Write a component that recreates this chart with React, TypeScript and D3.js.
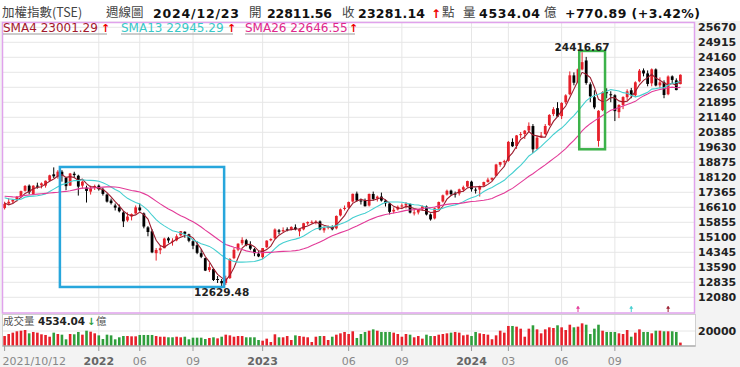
import React from 'react';
import * as d3 from 'd3';

// weekly closes before the first visible bar (warm-up for the moving averages)
const priorClose = [17265, 17566, 17285, 16583, 16302, 16870, 17147, 17213, 17371, 17403, 17711, 17661, 17895, 17572, 17247, 17526, 16982, 16341, 16880, 17516, 17474, 17276, 17260, 16705, 16570];

// TAIEX weekly bars, 2021/10/12 .. 2024/12/23
const weekOpen = [
  16570, 16800, 16900, 17000, 17150, 17440, 17700, 17280, 17700, 17720,
  17700, 17960, 18270, 18150, 18400, 18100, 17700, 18300, 18200, 17700,
  17600, 17400, 17600, 17700, 17500, 17250, 16950, 16700, 16600, 16350,
  15950, 16150, 16300, 16600, 16300, 15600, 15400, 14300, 14450, 14550,
  15050, 14900, 14950, 15200, 15380, 15250, 14900, 14700, 14300, 14050,
  13450, 13500, 13000, 12900, 12800, 13050, 14050, 14480, 14800, 14950,
  14700, 14500, 14280, 14100, 14600, 14950, 15050, 15450, 15400, 15500,
  15500, 15600, 15400, 15500, 15800, 15870, 15850, 15900, 15450, 15600,
  15600, 15550, 16200, 16550, 16600, 16900, 17300, 16950, 16950, 16700,
  17280, 17050, 17150, 16950, 16800, 16400, 16500, 16650, 16700, 16780,
  16350, 16350, 16500, 16650, 16250, 16050, 16550, 16900, 17250, 17450,
  17300, 17300, 17500, 17650, 17900, 17500, 17500, 17700, 17880, 18000,
  18200, 18750, 18880, 18950, 19900, 19700, 20250, 20300, 20470, 20700,
  19550, 20150, 20300, 20750, 21300, 21600, 21200, 21900, 22300, 23250,
  22900, 23550, 24000, 22800, 22150, 19950, 21500, 22400, 22300, 22250,
  21400, 21760, 22150, 22500, 22250, 22950, 23500, 23350, 22850, 23550,
  22750, 22900, 22300, 23200, 23000, 22811.56,
];
const weekHigh = [
  16890, 17080, 17020, 17180, 17450, 17730, 17760, 17720, 17850, 17860,
  17960, 18250, 18619, 18480, 18480, 18130, 18340, 18400, 18250, 17960,
  17700, 17700, 17750, 17760, 17600, 17300, 17050, 16800, 16750, 16420,
  16350, 16300, 16700, 16800, 16350, 15660, 15500, 14560, 14700, 15080,
  15120, 15050, 15250, 15417, 15400, 15280, 14950, 14900, 14500, 14080,
  13800, 13540, 13150, 13000, 13170, 14050, 14570, 14800, 15100, 15020,
  14900, 14560, 14400, 14560, 14950, 15050, 15550, 15520, 15600, 15600,
  15650, 15750, 15550, 15830, 15900, 15950, 15960, 15950, 15650, 15700,
  15700, 16200, 16550, 16700, 16900, 17300, 17400, 17050, 17050, 17300,
  17400, 17200, 17350, 17000, 16850, 16600, 16700, 16800, 16870, 16800,
  16500, 16500, 16700, 16700, 16300, 16600, 16900, 17250, 17500, 17500,
  17400, 17550, 17700, 17950, 17950, 17600, 17700, 17900, 18100, 18100,
  18800, 18900, 19000, 19950, 20080, 20250, 20400, 20500, 20883, 20800,
  20200, 20400, 20800, 21300, 21650, 21900, 21900, 22300, 23450, 23400,
  23600, 24416.67, 24180, 22900, 22500, 21500, 22450, 22600, 22450, 22300,
  21800, 22200, 22550, 22620, 22950, 23570, 23600, 23500, 23600, 23600,
  23150, 23000, 23250, 23250, 23100, 23300,
];
const weekLow = [
  16500, 16760, 16800, 16900, 17120, 17400, 17260, 17220, 17550, 17560,
  17600, 17930, 18080, 18050, 17900, 17470, 17690, 18080, 17200, 17550,
  16850, 17250, 17480, 17450, 17200, 16850, 16750, 16450, 16350, 15616,
  15880, 15950, 16280, 16400, 15550, 15150, 14300, 13928, 14250, 14550,
  14820, 14680, 14900, 15150, 15080, 14850, 14500, 14250, 14050, 13400,
  13350, 12900, 12800, 12629.48, 12700, 13000, 14000, 14400, 14700, 14650,
  14450, 14150, 14100, 14000, 14550, 14900, 15020, 15250, 15350, 15400,
  15450, 15450, 15150, 15450, 15700, 15800, 15750, 15450, 15330, 15500,
  15450, 15500, 16150, 16450, 16550, 16850, 16900, 16750, 16650, 16650,
  16950, 16900, 16900, 16650, 16250, 16300, 16450, 16550, 16550, 16300,
  16200, 16250, 16450, 16200, 15940, 16000, 16500, 16850, 17200, 17200,
  17100, 17200, 17400, 17600, 17400, 17300, 17150, 17650, 17850, 17950,
  18180, 18650, 18700, 18900, 19650, 19550, 20100, 20050, 20400, 19350,
  19500, 20100, 20250, 20700, 21200, 21150, 21050, 21800, 22250, 22750,
  22850, 23500, 22780, 21900, 21550, 19662, 21450, 22100, 21900, 20950,
  21100, 21550, 22000, 22100, 22150, 22900, 23200, 22700, 22700, 22700,
  22600, 22100, 22250, 22850, 22500, 22800,
];
const weekClose = [
  16781, 16888, 16987, 17137, 17424, 17683, 17370, 17697, 17699, 17813,
  17946, 18219, 18169, 18403, 18218, 17674, 18311, 18232, 17652, 17899,
  17434, 17566, 17677, 17523, 17284, 16898, 16821, 16592, 16408, 15900,
  16144, 16266, 16606, 16460, 15641, 15366, 14343, 14464, 14551, 15036,
  14942, 14923, 15150, 15408, 15278, 14926, 14675, 14318, 14119, 13424,
  13602, 12950, 12951, 12788, 13026, 14007, 14470, 14778, 14970, 14705,
  14528, 14300, 14137, 14557, 14933, 15012, 15493, 15378, 15464, 15483,
  15623, 15503, 15514, 15809, 15868, 15876, 15891, 15500, 15579, 15621,
  15502, 16174, 16505, 16577, 16875, 17288, 16947, 16915, 16664, 17283,
  17030, 17146, 16949, 16812, 16381, 16484, 16634, 16704, 16795, 16343,
  16353, 16490, 16658, 16248, 16001, 16558, 16876, 17213, 17442, 17270,
  17278, 17513, 17623, 17931, 17519, 17485, 17682, 17882, 18003, 18096,
  18763, 18889, 18935, 19902, 19682, 20227, 20294, 20466, 20706, 19527,
  20117, 20222, 20702, 21258, 21550, 21174, 21858, 22244, 23253, 22879,
  23558, 23916, 22870, 22199, 21638, 21469, 22402, 22385, 22268, 21450,
  21759, 22160, 22448, 22270, 22901, 23487, 23348, 22820, 23555, 22741,
  22898, 22263, 23193, 23021, 22510.25, 23281.14,
];
// weekly turnover, 億
const weekVolume = [
  13300, 16000, 17800, 19600, 20400, 21300, 16900, 18700, 17800, 15600,
  14700, 12400, 17800, 16000, 15100, 8900, 16000, 15600, 18700, 15100,
  20400, 19100, 16900, 14200, 9300, 15100, 14200, 8900, 11600, 13300,
  13300, 12900, 12900, 14700, 14700, 14700, 14700, 13300, 12400, 12400,
  11600, 11600, 12400, 11600, 12400, 8900, 11100, 11100, 11100, 9300,
  10700, 11600, 10200, 12400, 15100, 14200, 12400, 13300, 13300, 11600,
  11600, 11600, 8000, 7100, 9800, 5300, 15600, 11600, 11600, 13300,
  8000, 14200, 13300, 12400, 11600, 5300, 12400, 13300, 13300, 8000,
  12400, 15100, 16900, 18700, 16000, 19600, 10700, 16000, 18700, 20400,
  22200, 20400, 18700, 18700, 18700, 17800, 16000, 12400, 16000, 15100,
  11600, 13300, 9800, 15100, 13300, 13300, 15100, 16000, 16900, 17800,
  18700, 17800, 14200, 15100, 13300, 18700, 16900, 16000, 15100, 9000,
  14200, 20400, 17800, 26700, 26700, 25800, 23100, 12400, 23100, 27600,
  22200, 16900, 22200, 24900, 24000, 27600, 24900, 21300, 28400, 24900,
  25800, 30200, 28400, 16000, 23100, 28400, 20400, 18700, 18700, 18700,
  16900, 16000, 21300, 12400, 17800, 22200, 18700, 18700, 16900, 20400,
  20400, 19600, 19600, 19600, 18700, 4534.04,
];

const priceTicks = [25670, 24915, 24160, 23405, 22650, 21895, 21140, 20385, 19630, 18875, 18120, 17365, 16610, 15855, 15100, 14345, 13590, 12835, 12080];
const volumeTicks = [20000];
const timeTickIndex = [0, 23, 33, 46, 63, 84, 97, 114, 123, 136, 149];
const timeTickLabel = ['2021/10/12', '2022', '06', '09', '2023', '06', '09', '2024', '03', '06', '09'];

const maPeriods = [4, 13, 26];
const maLegendValue = ['23001.29', '22945.29', '22646.55'];

// marked areas: [from bar, to bar, low value, high value]
const blueBox = [13.5, 53.6, 12600, 18640];
const greenBox = [140.3, 146.6, 19530, 24480];
const highMark = { index: 141, value: 24416.67, label: '24416.67' };
const lowMark = { index: 53, value: 12629.48, label: '12629.48' };

const RED = '#e6202a';
const GREEN = '#2f9e3c';
const maLine = ['#9b1c2e', '#45cfd0', '#e23b98'];
const maText = ['#a3182c', '#38c8c8', '#e0268c'];
const CJK = '"Noto Sans CJK TC", "Noto Sans CJK SC", sans-serif';
const NUM = '"DejaVu Sans", Verdana, sans-serif';

export default function App() {
  const n = weekClose.length;
  const x = d3.scaleLinear().domain([0, n - 1]).range([4.6, 680.4]);
  const y = d3.scaleLinear().domain([12080, 25670]).range([297.3, 27.3]);
  const yv = d3.scaleLinear().domain([0, 20000]).range([346, 331]);

  const allClose = priorClose.concat(weekClose);
  const off = priorClose.length;
  const maSeries = maPeriods.map(p =>
    weekClose.map((_, i) => d3.mean(allClose.slice(off + i - p + 1, off + i + 1)) as number),
  );
  const line = d3.line<number>().x((_, i) => x(i)).y(d => y(d));

  const frame = { l: 2.5, r: 694.5, t: 22.5, b: 313 };
  const vol = { t: 314.5, b: 346 };

  const legendX = [3, 121, 245];
  const legendW = [104, 112, 110];

  return (
    <>
      <style>{'body{margin:0;background:#fff}'}</style>
      <svg width={740} height={367} style={{ display: 'block' }}>
        <rect x={0} y={0} width={740} height={367} fill="#fff" />
        <rect x={0} y={21} width={740} height={346} fill="#f3f3f3" />
        <rect x={frame.l} y={frame.t} width={frame.r - frame.l} height={frame.b - frame.t} fill="#fff" />
        <rect x={frame.l} y={vol.t} width={frame.r - frame.l + 1} height={vol.b - vol.t} fill="#fff" />

        {/* grid */}
        {priceTicks.map(v => (
          <line key={v} x1={frame.l} x2={frame.r} y1={y(v)} y2={y(v)} stroke="#e6e6e6" strokeWidth={1} />
        ))}
        {timeTickIndex.slice(1).map(i => (
          <g key={i}>
            <line x1={x(i)} x2={x(i)} y1={frame.t} y2={frame.b} stroke="#e6e6e6" />
            <line x1={x(i)} x2={x(i)} y1={vol.t} y2={vol.b} stroke="#e6e6e6" />
          </g>
        ))}
        {volumeTicks.map(v => (
          <line key={v} x1={frame.l} x2={frame.r + 1} y1={yv(v)} y2={yv(v)} stroke="#e6e6e6" />
        ))}

        {/* candles */}
        {weekClose.map((c, i) => {
          const o = weekOpen[i];
          const col = c >= o ? RED : '#000';
          const top = y(Math.max(o, c));
          const bot = y(Math.min(o, c));
          return (
            <g key={i}>
              <line x1={x(i)} x2={x(i)} y1={y(weekHigh[i])} y2={y(weekLow[i])} stroke={col} strokeWidth={1} />
              <rect x={x(i) - 1.4} y={top} width={2.8} height={Math.max(1, bot - top)} fill={col} />
            </g>
          );
        })}

        {/* moving averages */}
        {maSeries.map((s, k) => (
          <path key={k} d={line(s) ?? ''} fill="none" stroke={maLine[k]} strokeWidth={1.1} />
        ))}

        {/* annotations */}
        <rect x={x(blueBox[0])} y={y(blueBox[3])} width={x(blueBox[1]) - x(blueBox[0])} height={y(blueBox[2]) - y(blueBox[3])}
          fill="none" stroke="#27a6dc" strokeWidth={2.5} />
        <rect x={x(greenBox[0])} y={y(greenBox[3])} width={x(greenBox[1]) - x(greenBox[0])} height={y(greenBox[2]) - y(greenBox[3])}
          fill="none" stroke="#3cb24a" strokeWidth={2.5} />
        <text x={x(highMark.index)} y={y(highMark.value) - 1.5} textAnchor="middle" fontFamily={NUM} fontWeight="bold" fontSize={10.5} fill="#222">{highMark.label}</text>
        <text x={x(lowMark.index)} y={y(lowMark.value) + 10} textAnchor="middle" fontFamily={NUM} fontWeight="bold" fontSize={10.5} fill="#222">{lowMark.label}</text>

        {/* moving-average drop-off markers */}
        {maPeriods.map((p, k) => {
          const xi = x(n - p);
          return (
            <g key={p} stroke={maLine[k]} fill={maLine[k]}>
              <line x1={xi} x2={xi} y1={frame.b - 1} y2={frame.b - 6} strokeWidth={1} />
              <path d={`M${xi - 1.5},${frame.b - 4.5} L${xi},${frame.b - 7} L${xi + 1.5},${frame.b - 4.5} Z`} strokeWidth={0.5} />
            </g>
          );
        })}

        {/* frame */}
        <rect x={frame.l} y={frame.t} width={frame.r - frame.l} height={frame.b - frame.t} fill="none" stroke="#e0a2ec" strokeWidth={1.5} />

        {/* volume */}
        {weekVolume.map((v, i) => {
          const prev = i === 0 ? priorClose[priorClose.length - 1] : weekClose[i - 1];
          const col = weekClose[i] >= prev ? RED : GREEN;
          return <rect key={i} x={x(i) - 1.3} y={yv(v)} width={2.6} height={vol.b - yv(v)} fill={col} />;
        })}
        <rect x={frame.l} y={vol.t} width={frame.r - frame.l + 1} height={vol.b - vol.t} fill="none" stroke="#d0d0d0" strokeWidth={1} />
        <line x1={frame.l} x2={frame.r + 1} y1={vol.b} y2={vol.b} stroke="#999" strokeWidth={1} />

        {/* y labels */}
        {priceTicks.map(v => (
          <text key={v} x={698} y={y(v) + 4} fontFamily={NUM} fontWeight="bold" fontSize={11} fill="#222">{v}</text>
        ))}
        {volumeTicks.map(v => (
          <text key={v} x={698} y={yv(v) + 4} fontFamily={NUM} fontWeight="bold" fontSize={11} fill="#222">{v}</text>
        ))}

        {/* x axis */}
        {timeTickIndex.map((i, k) => {
          const lab = timeTickLabel[k];
          const year = /^\d{4}$/.test(lab);
          return (
            <g key={k}>
              <line x1={x(i)} x2={x(i)} y1={vol.b} y2={vol.b + 5} stroke="#999" />
              <text x={k === 0 ? x(i) - 2 : x(i)} y={365} textAnchor={k === 0 ? 'start' : 'middle'} fontFamily={NUM}
                fontSize={11} fontWeight={year ? 'bold' : 'normal'} fill={year ? '#666' : '#888'}>{lab}</text>
            </g>
          );
        })}

        {/* volume title */}
        <text x={3} y={324.5} fontFamily={CJK} fontSize={10.5} fill="#555">成交量</text>
        <text x={38} y={324.5} fontFamily={NUM} fontWeight="bold" fontSize={10.5} fill="#222" textLength={47}>4534.04</text>
        <text x={87} y={324.5} fontFamily={NUM} fontWeight="bold" fontSize={10} fill={GREEN}>↓</text>
        <text x={96} y={324.5} fontFamily={CJK} fontSize={10.5} fill="#555">億</text>

        {/* header */}
        <g fontFamily={CJK} fontSize={12.5} fill="#444">
          <text x={2} y={17}>加權指數(TSE)</text>
          <text x={106} y={17}>週線圖</text>
          <text x={249} y={17}>開</text>
          <text x={342} y={17}>收</text>
          <text x={442} y={17}>點</text>
          <text x={463} y={17}>量</text>
          <text x={544} y={17}>億</text>
        </g>
        <g fontFamily={NUM} fontWeight="bold" fontSize={12.5} fill="#111">
          <text x={153} y={17.5} textLength={86}>2024/12/23</text>
          <text x={267} y={17.5} textLength={65}>22811.56</text>
          <text x={358} y={17.5} textLength={67}>23281.14</text>
          <text x={479} y={17.5} textLength={61}>4534.04</text>
          <text x={565} y={17.5} textLength={135}>+770.89 (+3.42%)</text>
          <text x={431} y={17.5} fontSize={12} fill="#e00">↑</text>
        </g>

        {/* legend */}
        {maPeriods.map((p, k) => (
          <g key={p}>
            <text x={legendX[k]} y={32.3} fontFamily={NUM} fontSize={12} fill={maText[k]}>{`SMA${p} ${maLegendValue[k]}`}</text>
            <text x={legendX[k] + legendW[k] - 6} y={32.3} fontFamily={NUM} fontWeight="bold" fontSize={11} fill="#e00">↑</text>
            <line x1={legendX[k]} x2={legendX[k] + legendW[k]} y1={34} y2={34} stroke="#999" strokeWidth={1.2} />
          </g>
        ))}
      </svg>
    </>
  );
}
